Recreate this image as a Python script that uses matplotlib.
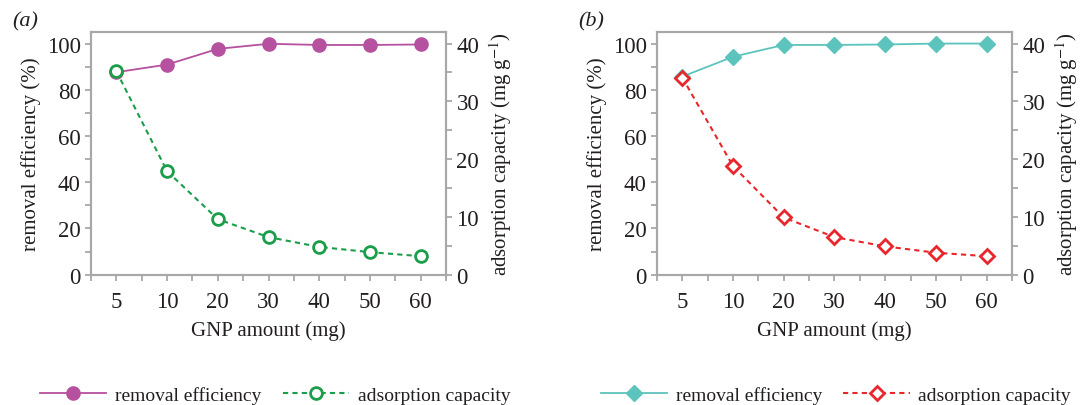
import numpy as np
import matplotlib
matplotlib.use("Agg")
import matplotlib.pyplot as plt
from matplotlib.ticker import MultipleLocator, FixedLocator

plt.rcParams['font.family'] = ['Liberation Serif', 'DejaVu Serif']
plt.rcParams['mathtext.fontset'] = 'stix'

# data
gnp = ['5', '10', '20', '30', '40', '50', '60']
eff_a = [87.6, 90.9, 97.7, 99.9, 99.4, 99.4, 99.6]
cap_a = [35.2, 17.9, 9.6, 6.5, 4.8, 3.9, 3.2]
eff_b = [85.7, 94.3, 99.4, 99.4, 99.6, 100.0, 100.0]
cap_b = [34.1, 18.8, 9.9, 6.5, 4.9, 3.8, 3.2]

GRAY = '#a8a8a8'
TXT = '#231f20'

fig = plt.figure(figsize=(10.8, 4.06), dpi=100)


def panel(left, eff, cap, c_eff, c_cap, m_eff, m_cap, tag, ms_eff, ms_cap):
    ax = fig.add_axes([left, 0.321, 0.3287, 0.5977])
    x = np.arange(len(gnp))
    l1, = ax.plot(x, eff, '-', color=c_eff, lw=1.3, marker=m_eff, ms=ms_eff,
                  mfc=c_eff, mec=c_eff, label='removal efficiency')
    ax.set_xlim(-0.5, len(gnp) - 0.5)
    ax.set_ylim(0, 105)
    ax.set_xticks(x)
    ax.set_xticklabels(gnp)
    ax.xaxis.set_minor_locator(FixedLocator(list(x + 0.5) + [-0.5]))
    ax.yaxis.set_major_locator(MultipleLocator(20))
    ax.yaxis.set_minor_locator(MultipleLocator(10))
    ax2 = ax.twinx()
    l2, = ax2.plot(x, cap, '--', color=c_cap, lw=1.5, marker=m_cap, ms=ms_cap,
                   mfc='white', mec=c_cap, mew=2.0, dashes=(2.5, 2),
                   label='adsorption capacity')
    ax2.set_ylim(0, 42)
    ax2.yaxis.set_major_locator(MultipleLocator(10))
    ax2.yaxis.set_minor_locator(MultipleLocator(5))
    for a in (ax, ax2):
        for s in a.spines.values():
            s.set_color(GRAY)
            s.set_linewidth(1.5)
        a.tick_params(which='both', color=GRAY, width=1.3, labelcolor=TXT,
                      labelsize=16.5, direction='out', length=4)
    ax.tick_params(axis='x', pad=8)
    ax.set_ylabel('removal efficiency (%)', fontsize=15, color=TXT, labelpad=4)
    ax2.set_ylabel(r'adsorption capacity (mg g$^{-1}$)', fontsize=15, color=TXT,
                   labelpad=6)
    ax.set_xlabel('GNP amount (mg)', fontsize=15, color=TXT, labelpad=6)
    ax.text(-0.222, 1.005, tag, transform=ax.transAxes, fontsize=16,
            style='italic', color=TXT, va='bottom')
    return l1, l2


h_a = panel(0.0843, eff_a, cap_a, '#b5519f', '#1a9e4a', 'o', 'o', '(a)', 9.5, 8.5)
h_b = panel(0.6083, eff_b, cap_b, '#5cc4bc', '#e8262b', 'D', 'D', '(b)', 8, 7)

for h, cx in ((h_a, 0.255), (h_b, 0.774)):
    fig.legend(handles=list(h), loc='center', bbox_to_anchor=(cx, 0.025), ncol=2,
               frameon=False, fontsize=14, handlelength=3.4, columnspacing=1.1,
               handletextpad=0.45, labelcolor=TXT)

fig.savefig('out.png', dpi=100)
